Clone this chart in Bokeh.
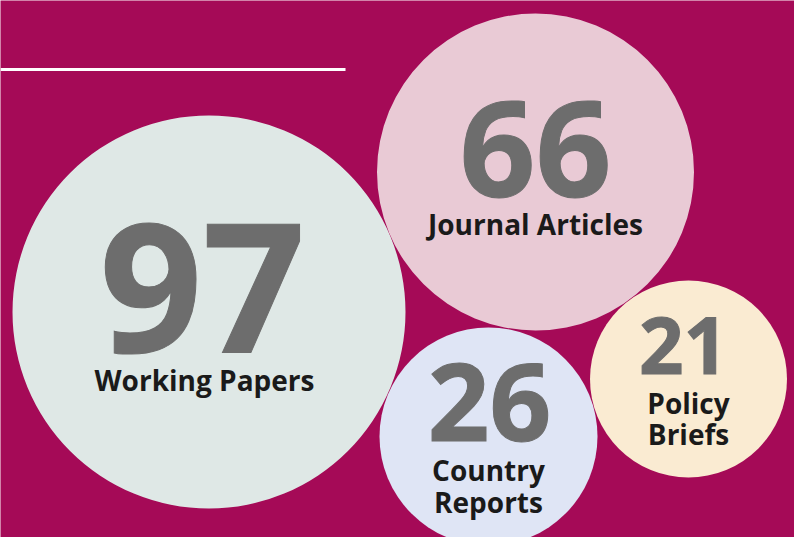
from bokeh.plotting import figure
from bokeh.models import Range1d, ColumnDataSource
from bokeh.core.properties import value
from bokeh.embed import file_html
from bokeh.resources import INLINE

# ---- data ----
categories = ["Working Papers", "Journal Articles", "Country Reports", "Policy Briefs"]
counts = [97, 66, 26, 21]
label_lines = [["Working Papers"], ["Journal Articles"], ["Country", "Reports"], ["Policy", "Briefs"]]

# ---- layout (page pixel coordinates, y downwards) ----
cx = [208.5, 535.0, 488.0, 688.0]
cy = [311.5, 171.5, 436.0, 378.5]
rad = [196.5, 158.5, 109.0, 98.5]
fills = ["#DFE8E6", "#E9CAD5", "#DFE5F5", "#FAEBD2"]
num_x = [202, 535, 489, 683]
num_base = [349, 194, 438, 372]
num_size = [180, 133, 108, 78]
lab_x = [204, 535, 488, 688]
lab_base = [[389], [233], [479, 511], [412, 443]]
LAB_SIZE = 28
K = 0.34  # baseline correction (fraction of font size)

BG = "#A50A57"
W, H = 794, 537

p = figure(width=W, height=H, output_backend="svg", toolbar_location=None,
           x_range=Range1d(0, W), y_range=Range1d(H, 0),
           min_border=0, border_fill_color=BG, background_fill_color=BG)
p.axis.visible = False
p.grid.visible = False
p.outline_line_color = None

# rule line
p.line(x=[0, 345], y=[69, 69], line_color="white", line_width=3)

src = ColumnDataSource(dict(x=cx, y=cy, r=rad, fill=fills, cat=categories))
p.circle(x="x", y="y", radius="r", fill_color="fill", line_color=None, source=src)

for i, n in enumerate(counts):
    s = num_size[i]
    p.text(x=[num_x[i]], y=[num_base[i] - K * s], text=[str(n)],
           text_font=value("Open Sans"), text_font_style="bold",
           text_font_size=f"{s}px", text_color="#6D6D6D",
           text_outline_color="#6D6D6D",
           text_align="center", text_baseline="alphabetic")
    for line, yb in zip(label_lines[i], lab_base[i]):
        p.text(x=[lab_x[i]], y=[yb - K * LAB_SIZE], text=[line],
               text_font=value("Open Sans"), text_font_style="bold",
               text_font_size=f"{LAB_SIZE}px", text_color="#1A1A1A",
               text_align="center", text_baseline="alphabetic")

html = file_html(p, INLINE)
open("out.html", "w").write(html)
